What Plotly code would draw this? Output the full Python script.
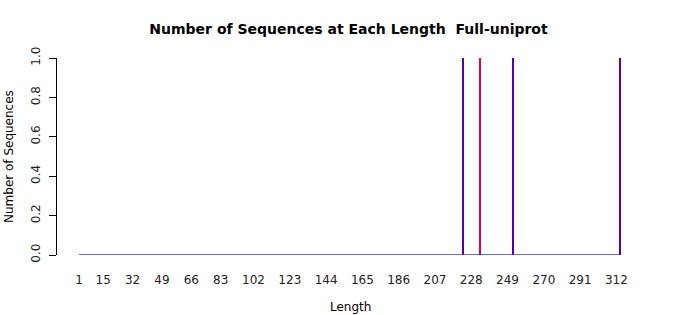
import plotly.graph_objects as go

# Data
min_length = 1
max_length = 314
series_a_lengths = [223, 233, 252, 314]
series_a_counts = [1, 1, 1, 1]
series_b_lengths = [233]
series_b_counts = [1]
tick_labels = [1, 15, 32, 49, 66, 83, 102, 123, 144, 165, 186, 207, 228, 249, 270, 291, 312]
y_ticks = [0.0, 0.2, 0.4, 0.6, 0.8, 1.0]

FONT = "DejaVu Sans"
PURPLE = "#5200b8"
RED = "#e0004a"
BLUE = "#3a3ae0"

fig = go.Figure()

# baseline of zero-height bars
fig.add_trace(go.Scatter(
    x=[min_length, max_length], y=[0, 0], mode="lines",
    line=dict(color=BLUE, width=1.6), hoverinfo="skip", showlegend=False))

fig.add_trace(go.Bar(
    x=series_a_lengths, y=series_a_counts, width=1.2, offset=-0.6,
    marker=dict(color=PURPLE, line=dict(width=0)), showlegend=False))

fig.add_trace(go.Bar(
    x=series_b_lengths, y=series_b_counts, width=0.65, offset=0.0,
    marker=dict(color=RED, line=dict(width=0)), showlegend=False))

x_left = min_length - 22 / 1.728
x_right = min_length + (640 - 79) / 1.728

fig.update_layout(
    width=700, height=315,
    margin=dict(l=57, r=60, t=58, b=60),
    paper_bgcolor="white", plot_bgcolor="white",
    barmode="overlay", bargap=0,
    font=dict(family=FONT, size=12, color="#000000"),
    title=dict(text="<b>Number of Sequences at Each Length  Full-uniprot</b>",
               x=0.5, xref="paper", xanchor="center",
               y=1 - 29 / 315, yref="container", yanchor="middle",
               font=dict(family=FONT, size=14, color="#000000")),
    xaxis=dict(range=[x_left, x_right], showgrid=False, zeroline=False,
               showline=False, tickmode="array", tickvals=tick_labels,
               ticktext=[str(t) for t in tick_labels], ticks="",
               ticklabelstandoff=16,
               tickfont=dict(family=FONT, size=12, color="#222222")),
    yaxis=dict(range=[0, 1], showgrid=False, zeroline=False,
               showline=True, linecolor="#000000", linewidth=1,
               ticks="outside", ticklen=7, tickcolor="#000000",
               ticklabelstandoff=4,
               tickmode="array", tickvals=y_ticks,
               ticktext=[f"{v:.1f}" for v in y_ticks], tickangle=-90,
               tickfont=dict(family=FONT, size=12, color="#222222")),
    annotations=[
        dict(text="Length", showarrow=False,
             font=dict(family=FONT, size=12, color="#000000")),
        dict(text="Number of Sequences", textangle=-90, showarrow=False,
             font=dict(family=FONT, size=12, color="#000000")),
    ],
)

# position axis titles in pixel terms via paper coordinates
pw = 700 - 57 - 60
ph = 315 - 58 - 60
fig.layout.annotations[0].update(x=(350 - 57) / pw, y=(315 - 60 - 307) / ph,
                                 xref="paper", yref="paper",
                                 xanchor="center", yanchor="middle")
fig.layout.annotations[1].update(x=(9 - 57) / pw, y=(315 - 60 - 157) / ph,
                                 xref="paper", yref="paper",
                                 xanchor="center", yanchor="middle")

fig.write_html("out.html")
